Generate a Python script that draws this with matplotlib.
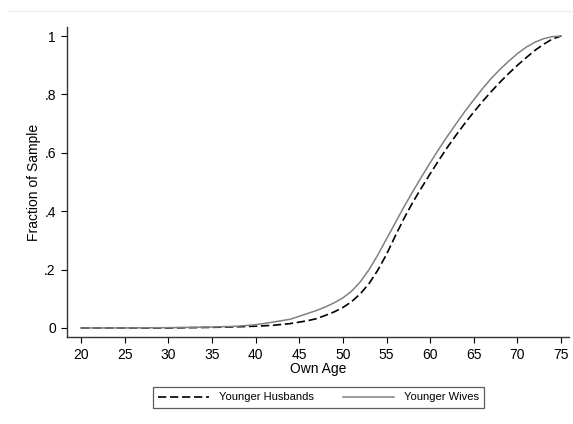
import matplotlib
matplotlib.use('Agg')
import matplotlib.pyplot as plt
from matplotlib.lines import Line2D

plt.rcParams['font.family'] = ['Liberation Sans', 'DejaVu Sans']

# cumulative share of the sample by own age
ages = [20, 25, 30, 35, 38, 40, 42, 44, 45, 46, 47, 48, 49, 50, 51, 52, 53, 54, 55,
        56, 57, 58, 59, 60, 61, 62, 63, 64, 65, 66, 67, 68, 69, 70, 71, 72, 73, 74, 75]
husbands = [0.0, 0.0, 0.0, 0.002, 0.004, 0.006, 0.009, 0.015, 0.02, 0.025, 0.032, 0.043,
            0.055, 0.07, 0.09, 0.117, 0.152, 0.198, 0.252, 0.315, 0.375, 0.43, 0.48, 0.528,
            0.575, 0.62, 0.662, 0.702, 0.74, 0.776, 0.81, 0.842, 0.872, 0.9, 0.926, 0.951,
            0.972, 0.99, 1.0]
wives = [0.0, 0.0, 0.001, 0.003, 0.006, 0.011, 0.02, 0.03, 0.04, 0.05, 0.06, 0.072,
         0.086, 0.103, 0.126, 0.158, 0.2, 0.25, 0.305, 0.36, 0.415, 0.467, 0.517, 0.566,
         0.613, 0.658, 0.701, 0.743, 0.782, 0.82, 0.855, 0.886, 0.914, 0.94, 0.962, 0.979,
         0.991, 0.998, 1.0]
xticks = [20, 25, 30, 35, 40, 45, 50, 55, 60, 65, 70, 75]
yticks = [0, 0.2, 0.4, 0.6, 0.8, 1.0]
ylabels = ['0', '.2', '.4', '.6', '.8', '1']

fig = plt.figure(figsize=(5.73, 4.24), dpi=100)
ax = fig.add_axes([0.1169, 0.2052, 0.8761, 0.7311])

ax.plot(ages, husbands, color='black', lw=1.2, ls=(0, (5, 2.2)), label='Younger Husbands')
ax.plot(ages, wives, color='#808080', lw=1.1, label='Younger Wives')

ax.set_xlim(18.4, 75.9)
ax.set_ylim(-0.031, 1.031)
ax.set_xticks(xticks)
ax.set_yticks(yticks)
ax.set_yticklabels(ylabels)
ax.tick_params(length=4, width=0.8, pad=4, labelsize=10, colors='black')

for s in ['top', 'right']:
    ax.spines[s].set_visible(False)
for s in ['left', 'bottom']:
    ax.spines[s].set_color('#333333')
    ax.spines[s].set_linewidth(1.0)

ax.set_xlabel('Own Age', fontsize=10, labelpad=0)
ax.set_ylabel('Fraction of Sample', fontsize=10, labelpad=2)

# faint top rule of the graph region
fig.add_artist(Line2D([0.014, 1.0], [1 - 11 / 424, 1 - 11 / 424], color='#eeeeee', lw=1))

leg = fig.legend(loc='center', ncol=2, mode='expand',
                 bbox_to_anchor=(0.2566, 0.0307, 0.5986, 0.0637),
                 bbox_transform=fig.transFigure, fontsize=8,
                 handlelength=4.6, handletextpad=0.9, borderpad=0.5,
                 fancybox=False, frameon=True, edgecolor='#333333')
leg.get_frame().set_linewidth(0.9)

fig.savefig('out.png', dpi=100)
